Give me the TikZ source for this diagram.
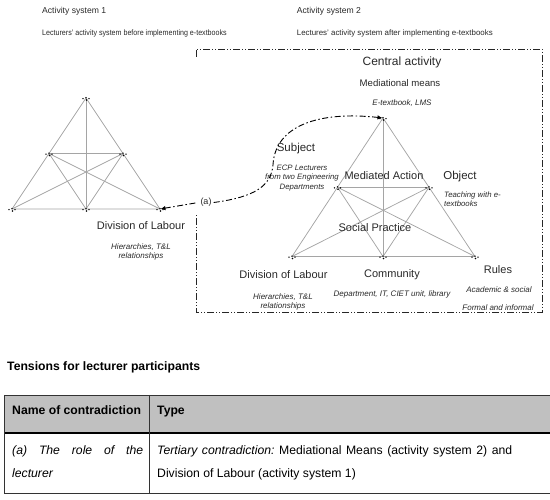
\documentclass[tikz,border=0pt]{standalone}
\usepackage{fontspec}
\usepackage{graphicx}
\setmainfont{Liberation Sans}
\usetikzlibrary{arrows.meta,calc}
\definecolor{linegray}{RGB}{165,165,165}
\definecolor{headgray}{RGB}{192,192,192}
\definecolor{txt}{RGB}{40,40,40}
\begin{document}
\begin{tikzpicture}[x=1pt,y=-1pt,
  tri/.style={draw=linegray, line width=0.75pt},
  lab/.style={anchor=base, inner sep=0pt, text=txt, font=\fontsize{11}{13}\selectfont},
  sub/.style={anchor=base, inner sep=0pt, text=txt, align=center, font=\fontsize{8}{9.2}\selectfont\itshape},
  head/.style={anchor=base west, inner sep=0pt, text=txt},
  tab/.style={anchor=base west, inner sep=0pt, text=black, font=\fontsize{12.2}{14}\selectfont},
  frame/.style={draw=black!85, line width=0.9pt, dash pattern=on 7pt off 2pt on 1pt off 2pt on 1pt off 2pt},
  link/.style={draw=black, line width=0.9pt, dash pattern=on 6pt off 2.5pt on 1.5pt off 2.5pt, -{Latex[length=5pt,width=4.5pt]}},
  vdot/.pic={\foreach \p in {(-3,0.6),(0,-0.4),(3,0.6),(0.5,2)} \fill[black] \p circle (0.8);}
]
\useasboundingbox (0,0) rectangle (550,500);

% headings
\node[head, font=\fontsize{8.6}{10}\selectfont] (h1) at (42,13.7) {Activity system 1};
\node[head, font=\fontsize{7.9}{9}\selectfont] (s1) at (42,36) {\scalebox{0.9}[1]{Lecturers' activity system before implementing e-textbooks}};
\node[head, font=\fontsize{8.6}{10}\selectfont] (h2) at (296.7,13.7) {Activity system 2};
\node[head, font=\fontsize{7.9}{9}\selectfont] (s2) at (296.7,36) {Lectures' activity system after implementing e-textbooks};

% frame of activity system 2
\draw[frame] (196,57) -- (196,49) -- (542,49) -- (542,312) -- (196,312) -- (196,215);

% left triangle
\coordinate (LA) at (86,98);
\coordinate (LBL) at (12,209);
\coordinate (LBR) at (160,209);
\coordinate (LBM) at (86,209);
\coordinate (LML) at ($(LA)!0.5!(LBL)$);
\coordinate (LMR) at ($(LA)!0.5!(LBR)$);
\draw[tri] (LA) -- (LBL) -- (LBR) -- cycle;
\draw[tri] (LA) -- (LBM);
\draw[tri] (LML) -- (LMR);
\draw[tri] (LML) -- (LBM) -- (LMR);
\draw[tri] (LML) -- (LBR);
\draw[tri] (LMR) -- (LBL);
\foreach \v in {LA,LBL,LBR,LBM,LML,LMR} \path (\v) pic {vdot};

% right triangle
\coordinate (RA) at (383,118);
\coordinate (RBL) at (292,256.5);
\coordinate (RBR) at (475,256.5);
\coordinate (RBM) at (383,256.5);
\coordinate (RML) at ($(RA)!0.5!(RBL)$);
\coordinate (RMR) at ($(RA)!0.5!(RBR)$);
\draw[tri] (RA) -- (RBL) -- (RBR) -- cycle;
\draw[tri] (RA) -- (RBM);
\draw[tri] (RML) -- (RMR);
\draw[tri] (RML) -- (RBM) -- (RMR);
\draw[tri] (RML) -- (RBR);
\draw[tri] (RMR) -- (RBL);
\foreach \v in {RA,RBL,RBR,RBM,RML,RMR} \path (\v) pic {vdot};

% left labels
\node[lab] (ldol) at (141,229.5) {Division of Labour};
\node[sub] (ldols) at (141,258.8) {Hierarchies, T\&L\\relationships};

% right labels
\node[lab, font=\fontsize{12}{14}\selectfont] (ca) at (402,65.5) {Central activity};
\node[lab, font=\fontsize{9.6}{11}\selectfont] (mm) at (400,86.5) {Mediational means};
\node[sub] (mms) at (402,106) {E-textbook, LMS};
\node[lab, font=\fontsize{11.5}{13}\selectfont] (subj) at (296,151.7) {Subject};
\node[sub, font=\fontsize{7.8}{9.5}\selectfont\itshape] (subjs) at (302,189.5) {ECP Lecturers\\from two Engineering\\Departments};
\node[lab] (ma) at (384,179.5) {Mediated Action};
\node[lab, font=\fontsize{11.5}{13}\selectfont] (obj) at (460,179.5) {Object};
\node[sub, anchor=base west, align=left, font=\fontsize{7.8}{8.8}\selectfont\itshape] (objs) at (444,206.5) {Teaching with e-\\textbooks};
\node[lab] (sp) at (375,232) {Social Practice};
\node[lab] (rdol) at (283.5,278.5) {Division of Labour};
\node[lab] (com) at (392,277.5) {Community};
\node[lab] (rul) at (498,273.5) {Rules};
\node[sub] (rdols) at (283,308.8) {Hierarchies, T\&L\\relationships};
\node[sub] (coms) at (392,296.6) {Department, IT, CIET unit, library};
\node[sub] (ruls1) at (499,292.6) {Academic \& social};
\node[sub] (ruls2) at (498,310.6) {Formal and informal};

% contradiction (a)
\node[lab, font=\fontsize{9}{10}\selectfont, anchor=center, inner sep=2pt] (a) at (206,202.5) {(a)};
\draw[link, shorten <=3pt, shorten >=0.5pt] (a.west) -- (LBR);
\draw[link, shorten >=0.5pt] (a.east) .. controls (255,197) and (271,186) .. (273,165)
   .. controls (275,125) and (320,111) .. (RA);

% table
\node[tab, font=\fontsize{12.2}{14}\selectfont\bfseries] (tt) at (7,370.5) {Tensions for lecturer participants};
\fill[headgray] (4,395) rectangle (550,433);
\draw[black!80, line width=0.8pt] (4,395) -- (550,395);
\draw[black, line width=1.8pt] (4,433) -- (550,433);
\draw[black!80, line width=0.8pt] (4,493) -- (550,493);
\draw[black!80, line width=0.8pt] (4,395) -- (4,493);
\draw[black!80, line width=0.8pt] (149,395) -- (149,493);
\node[tab, font=\fontsize{12.2}{14}\selectfont\bfseries] (c1) at (12,415) {Name of contradiction};
\node[tab, font=\fontsize{12.2}{14}\selectfont\bfseries] (c2) at (157,415) {Type};
\node[tab] (r1a) at (12,454) {\hbox to 131pt{\itshape (a)\hfil The\hfil role\hfil of\hfil the}};
\node[tab] (r1b) at (12,478) {\itshape lecturer};
\node[tab] (r2a) at (157,454) {\hbox to 355pt{\itshape Tertiary\hfil contradiction:\upshape\hfil Mediational\hfil Means\hfil (activity\hfil system\hfil 2)\hfil and}};
\node[tab] (r2b) at (157,478) {Division of Labour (activity system 1)};
\end{tikzpicture}
\end{document}
